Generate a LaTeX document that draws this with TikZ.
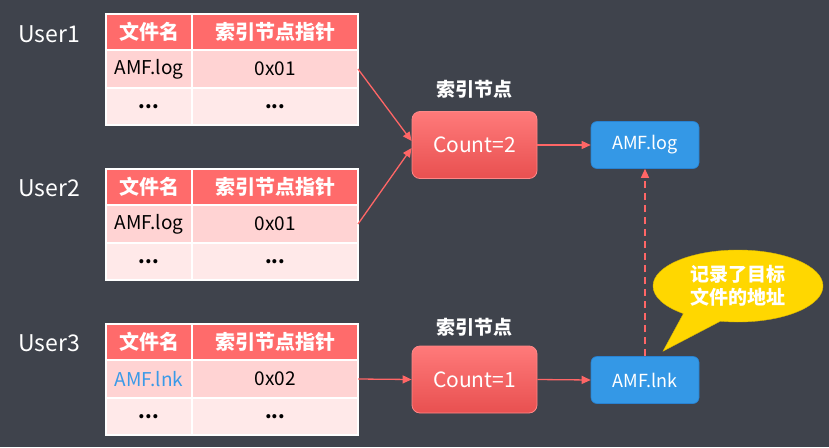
\documentclass[tikz,border=0pt]{standalone}
\usepackage{fontspec}
\setmainfont{Noto Sans CJK SC}
\usetikzlibrary{shapes.callouts,arrows.meta}
\definecolor{bg}{RGB}{63,67,76}
\definecolor{hdr}{RGB}{255,107,107}
\definecolor{rowa}{RGB}{255,211,211}
\definecolor{rowb}{RGB}{255,233,233}
\definecolor{arrred}{RGB}{255,102,102}
\definecolor{bluebox}{RGB}{52,152,230}
\definecolor{blueborder}{RGB}{40,130,210}
\definecolor{lnkblue}{RGB}{58,154,232}
\definecolor{gold}{RGB}{255,215,0}
\definecolor{cnttop}{RGB}{255,122,122}
\definecolor{cntbot}{RGB}{232,80,80}
\tikzset{
  cell/.style={draw=white, line width=1.2pt, anchor=north west, inner sep=0pt, outer sep=0pt},
  cellhead/.style={cell, fill=hdr, text=white, font=\fontsize{20}{22}\selectfont\bfseries, minimum height=36pt},
  cellra/.style={cell, fill=rowa, text=black, font=\fontsize{19}{21}\selectfont, minimum height=38pt},
  cellrb/.style={cell, fill=rowb, text=black, font=\fontsize{19}{21}\selectfont, minimum height=37pt},
  colA/.style={minimum width=86pt},
  colB/.style={minimum width=166pt},
  userlbl/.style={text=white, font=\fontsize{23}{26}\selectfont, anchor=west, inner sep=0pt},
  cntbox/.style={rounded corners=8pt, draw=cnttop!90!white, line width=0.8pt, top color=cnttop, bottom color=cntbot, text=white, font=\fontsize{21}{24}\selectfont, minimum width=125pt, minimum height=67pt, inner sep=0pt},
  filebox/.style={rounded corners=6pt, draw=blueborder, line width=0.6pt, fill=bluebox, text=white, font=\fontsize{18}{20}\selectfont, minimum width=108pt, minimum height=47pt, inner sep=0pt},
  titlelbl/.style={text=white, font=\fontsize{19}{22}\selectfont\bfseries, inner sep=0pt},
  arr/.style={draw=arrred, line width=1.3pt, -{Triangle[length=9pt,width=8pt]}},
}
\newcommand{\mktable}[4]{%
  \node[cellhead, colA] (#1h1) at (106,#2) {文件名};
  \node[cellhead, colB] (#1h2) at (192,#2) {索引节点指针};
  \node[cellra, colA] (#1a1) at (106,#2+36) {#3};
  \node[cellra, colB] (#1b1) at (192,#2+36) {#4};
  \node[cellrb, colA] (#1a2) at (106,#2+74) {\textbf{...}};
  \node[cellrb, colB] (#1b2) at (192,#2+74) {\textbf{...}};
  \draw[white, line width=1.2pt] (106,#2) rectangle (358,#2+111);
}
\begin{document}
\begin{tikzpicture}[x=1pt,y=-1pt]
\fill[bg] (0,0) rectangle (829,447);
\useasboundingbox (0,0) rectangle (829,447);

\node[userlbl] (u1) at (18,34) {User1};
\node[userlbl] (u2) at (18,188) {User2};
\node[userlbl] (u3) at (18,343) {User3};

\mktable{ta}{14}{AMF.log}{0x01}
\mktable{tb}{169}{AMF.log}{0x01}
\mktable{tc}{324}{\textcolor{lnkblue}{AMF.lnk}}{0x02}

\node[cntbox] (c2) at (474.5,145) {Count=2};
\node[titlelbl] (t2) at (474.5,89) {索引节点};
\node[cntbox] (c1) at (474.5,379.5) {Count=1};
\node[titlelbl] (t1) at (474.5,327) {索引节点};

\node[filebox] (flog) at (645,145) {AMF.log};
\node[filebox] (flnk) at (645,380) {AMF.lnk};

\draw[arr] (tab1.east) -- ([yshift=4pt]c2.west);
\draw[arr] (tbb1.east) -- ([yshift=-3pt]c2.west);
\draw[arr] (tcb1.east) -- (c1.west);
\draw[arr] (c2.east) -- (flog.west);
\draw[arr] (c1.east) -- (flnk.west);
\draw[arr, dashed, dash pattern=on 7pt off 5pt] (flnk.north) -- (flog.south);

\coordinate (tip) at ([xshift=18pt,yshift=5pt]flnk.north);
\node[ellipse callout, fill=gold, draw=gold!85!black, line width=0.4pt, minimum width=170pt, minimum height=72pt, callout absolute pointer=(tip), callout pointer arc=28, text=white, font=\fontsize{19}{23}\selectfont\bfseries, align=center, inner sep=0pt] (note) at (738,286) {记录了目标\\文件的地址};
\end{tikzpicture}
\end{document}
